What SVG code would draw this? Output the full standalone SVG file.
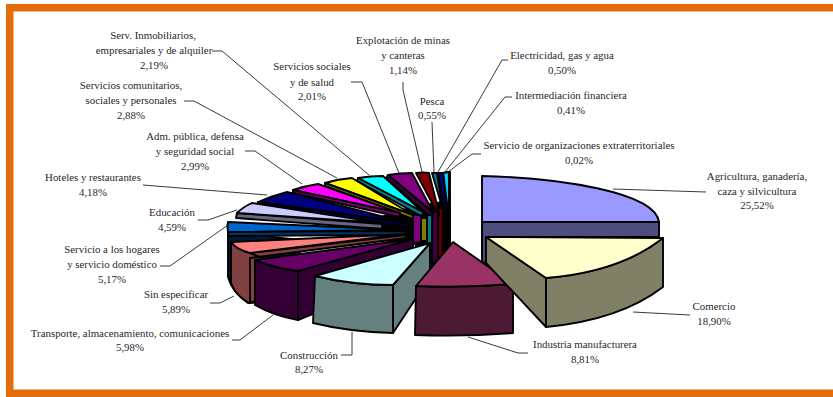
<svg xmlns="http://www.w3.org/2000/svg" width="833" height="397" viewBox="0 0 833 397">
<style>
text{font-family:"Liberation Serif","Times New Roman",serif;font-size:10.85px;fill:#1f1f2b;text-anchor:middle}
.s{stroke:#000;stroke-width:1.9;stroke-linejoin:round}
.l{fill:none;stroke:#3a3a3a;stroke-width:1}
</style>
<rect width="833" height="397" fill="#fff"/>
<g id="frame"><path d="M6 397V4H833V11.500H13.500V389.500H833V397Z" fill="#e46c0a"/></g>
<g id="connectors">
<path class="l" d="M212 51H222L369 175"/>
<path class="l" d="M184 101H194L337 178"/>
<path class="l" d="M351 82H362L399 173"/>
<path class="l" d="M403 82V90L422 172"/>
<path class="l" d="M432 122L434 172"/>
<path class="l" d="M508 60H502L438 172"/>
<path class="l" d="M512 97H505L445 172"/>
<path class="l" d="M481 154H472L448 172"/>
<path class="l" d="M245 151H255L302 184"/>
<path class="l" d="M143 185L267 195"/>
<path class="l" d="M198 220H208L237 210"/>
<path class="l" d="M160 266H170L228 225"/>
<path class="l" d="M210 303H220L234 296"/>
<path class="l" d="M232 340H240L273 315"/>
<path class="l" d="M341 355H352V332"/>
<path class="l" d="M468 337L518 353H528"/>
<path class="l" d="M633 312L690 315"/>
<path class="l" d="M613 189L706 192"/>
</g>
<g id="slice-back-block"><path d="M375 218L415 205L450 200V255H415V245L375 240Z" fill="#000"/></g>
<g id="slice-organizaciones"><path class="s" fill="#000" d="M450 172V250H443V173Z"/></g>
<g id="slice-intermediacion"><path class="s" fill="#00ccff" d="M443 173L449 172V203H447Z"/></g>
<g id="slice-electricidad"><path class="s" fill="#000080" d="M438 173L443 173L446 205L444 210Z"/><path class="s" fill="#5a0000" d="M438 208H443V255L438 258Z"/></g>
<g id="slice-pesca"><path class="s" fill="#008080" d="M432 173L437 173L443 210Z"/></g>
<g id="slice-explotacion"><path class="s" fill="#800000" d="M416 173Q423 172 429 173L439 213V216Z"/><path class="s" fill="#400040" d="M432 212H438V258L432 265Z"/></g>
<g id="slice-salud"><path class="s" fill="#800080" d="M388 175Q400 173 412 173L433 212Z"/><path class="s" fill="#400040" d="M388 175L433 213L432 218L386 178Z"/><path class="s" fill="#008080" d="M427 215H432V268L427 275Z"/></g>
<g id="slice-comunitarios"><path class="s" fill="#00ffff" d="M358 178Q370 176 383 176L423 212Z"/><path class="s" fill="#008080" d="M358 178L423 212L423 217L357 181Z"/><path class="s" fill="#808000" d="M421 218H427V241H421Z"/></g>
<g id="slice-adm"><path class="s" fill="#ffff00" d="M325 183Q338 179 352 178L413 215Z"/><path class="s" fill="#808000" d="M325 183L413 215L413 219L325 186Z"/></g>
<g id="slice-hoteles-side"><path class="s" fill="#800080" d="M413 215H421V242L413 243Z"/></g>
<g id="slice-magenta"><path class="s" fill="#ff00ff" d="M293 190Q305 186 318 184L400 213Z"/><path class="s" fill="#800080" d="M293 190L400 213L400 217L293 193Z"/></g>
<g id="slice-hoteles"><path class="s" fill="#000080" d="M258 202Q272 196 287 192L408 223Z"/><path class="s" fill="#000040" d="M258 202L408 223V227L258 205Z"/></g>
<g id="slice-educacion"><path class="s" fill="#666680" d="M237 213L382 224V229L236 218Z"/><path class="s" fill="#ccccff" d="M237 213Q243 207 252 203L382 223Z"/></g>
<g id="slice-hogares"><path class="s" fill="#001a33" d="M228 232V277Q232 292 248 303L300 300V240Z"/><path class="s" fill="#0066cc" d="M405 230L228 222Q227 226 228 232Z"/><path class="s" fill="#003366" d="M228 232L405 231V235L228 236Z"/></g>
<g id="slice-especificar"><path class="s" fill="#804040" d="M231 242Q231 247 231 283Q236 296 249 303L262 298V253L250 253Q236 249 231 242Z"/><path class="s" fill="#804040" d="M250 253L406 235V238L250 258V303L262 298V258Z"/><path class="s" fill="#ff8080" d="M231 242L406 234L250 253Q236 249 231 242Z"/></g>
<g id="slice-transporte"><path class="s" fill="#330033" d="M298 271L413 239V250L315 313L298 320Z"/><path class="s" fill="#330033" d="M255 260Q274 268 298 271V320Q274 316 255 305Z"/><path class="s" fill="#660066" d="M255 260L413 239L298 271Q274 268 255 260Z"/></g>
<g id="slice-construccion"><path class="s" fill="#668080" d="M393 285L430 243V277L393 333Z"/><path class="s" fill="#668080" d="M315 276Q352 285 393 285V333Q350 332 313 323Z"/><path class="s" fill="#ccffff" d="M315 276L430 243L393 285Q352 285 315 276Z"/></g>
<g id="slice-industria"><path class="s" fill="#4d1a33" d="M416 286Q465 288 513 284V333Q465 337 415 335Z"/><path class="s" fill="#993366" d="M453 242L513 284Q465 288 416 286Z"/></g>
<g id="slice-agricultura"><path class="s" fill="#4d4d80" d="M482 222H659V237L486 237V263L482 262Z"/><path class="s" fill="#9999ff" d="M482 176C560 178 655 192 659 222H482Z"/></g>
<g id="slice-comercio"><path class="s" fill="#808066" d="M486 237L546 278V327L486 263Z"/><path class="s" fill="#808066" d="M546 278Q620 272 663 238V287Q620 320 546 327Z"/><path class="s" fill="#ffffcc" d="M486 237L663 238Q620 272 546 278Z"/></g>
<g id="labels">
<text x="153" y="39">Serv. Inmobiliarios,</text><text x="154" y="54">empresariales y de alquiler</text><text x="154" y="69">2,19%</text>
<text x="131" y="89">Servicios comunitarios,</text><text x="131" y="104">sociales y personales</text><text x="131" y="119">2,88%</text>
<text x="195" y="140">Adm. pública, defensa</text><text x="195" y="155">y seguridad social</text><text x="195" y="170">2,99%</text>
<text x="93" y="181">Hoteles y restaurantes</text><text x="93" y="196">4,18%</text>
<text x="172" y="216">Educación</text><text x="172" y="231">4,59%</text>
<text x="112" y="253">Servicio a los hogares</text><text x="112" y="268">y servicio doméstico</text><text x="112" y="283">5,17%</text>
<text x="176" y="298">Sin especificar</text><text x="176" y="313">5,89%</text>
<text x="130" y="337">Transporte, almacenamiento, comunicaciones</text><text x="130" y="351">5,98%</text>
<text x="309" y="359">Construcción</text><text x="309" y="373">8,27%</text>
<text x="585" y="348">Industria manufacturera</text><text x="585" y="363">8,81%</text>
<text x="714" y="310">Comercio</text><text x="714" y="325">18,90%</text>
<text x="757" y="180">Agricultura, ganadería,</text><text x="757" y="195">caza y silvicultura</text><text x="757" y="209">25,52%</text>
<text x="579" y="149">Servicio de organizaciones extraterritoriales</text><text x="579" y="164">0,02%</text>
<text x="571" y="99">Intermediación financiera</text><text x="571" y="114">0,41%</text>
<text x="562" y="59">Electricidad, gas y agua</text><text x="562" y="74">0,50%</text>
<text x="432" y="105">Pesca</text><text x="432" y="119">0,55%</text>
<text x="403" y="44">Explotación de minas</text><text x="403" y="59">y canteras</text><text x="403" y="74">1,14%</text>
<text x="312" y="70">Servicios sociales</text><text x="312" y="86">y de salud</text><text x="312" y="100">2,01%</text>
</g>
</svg>
